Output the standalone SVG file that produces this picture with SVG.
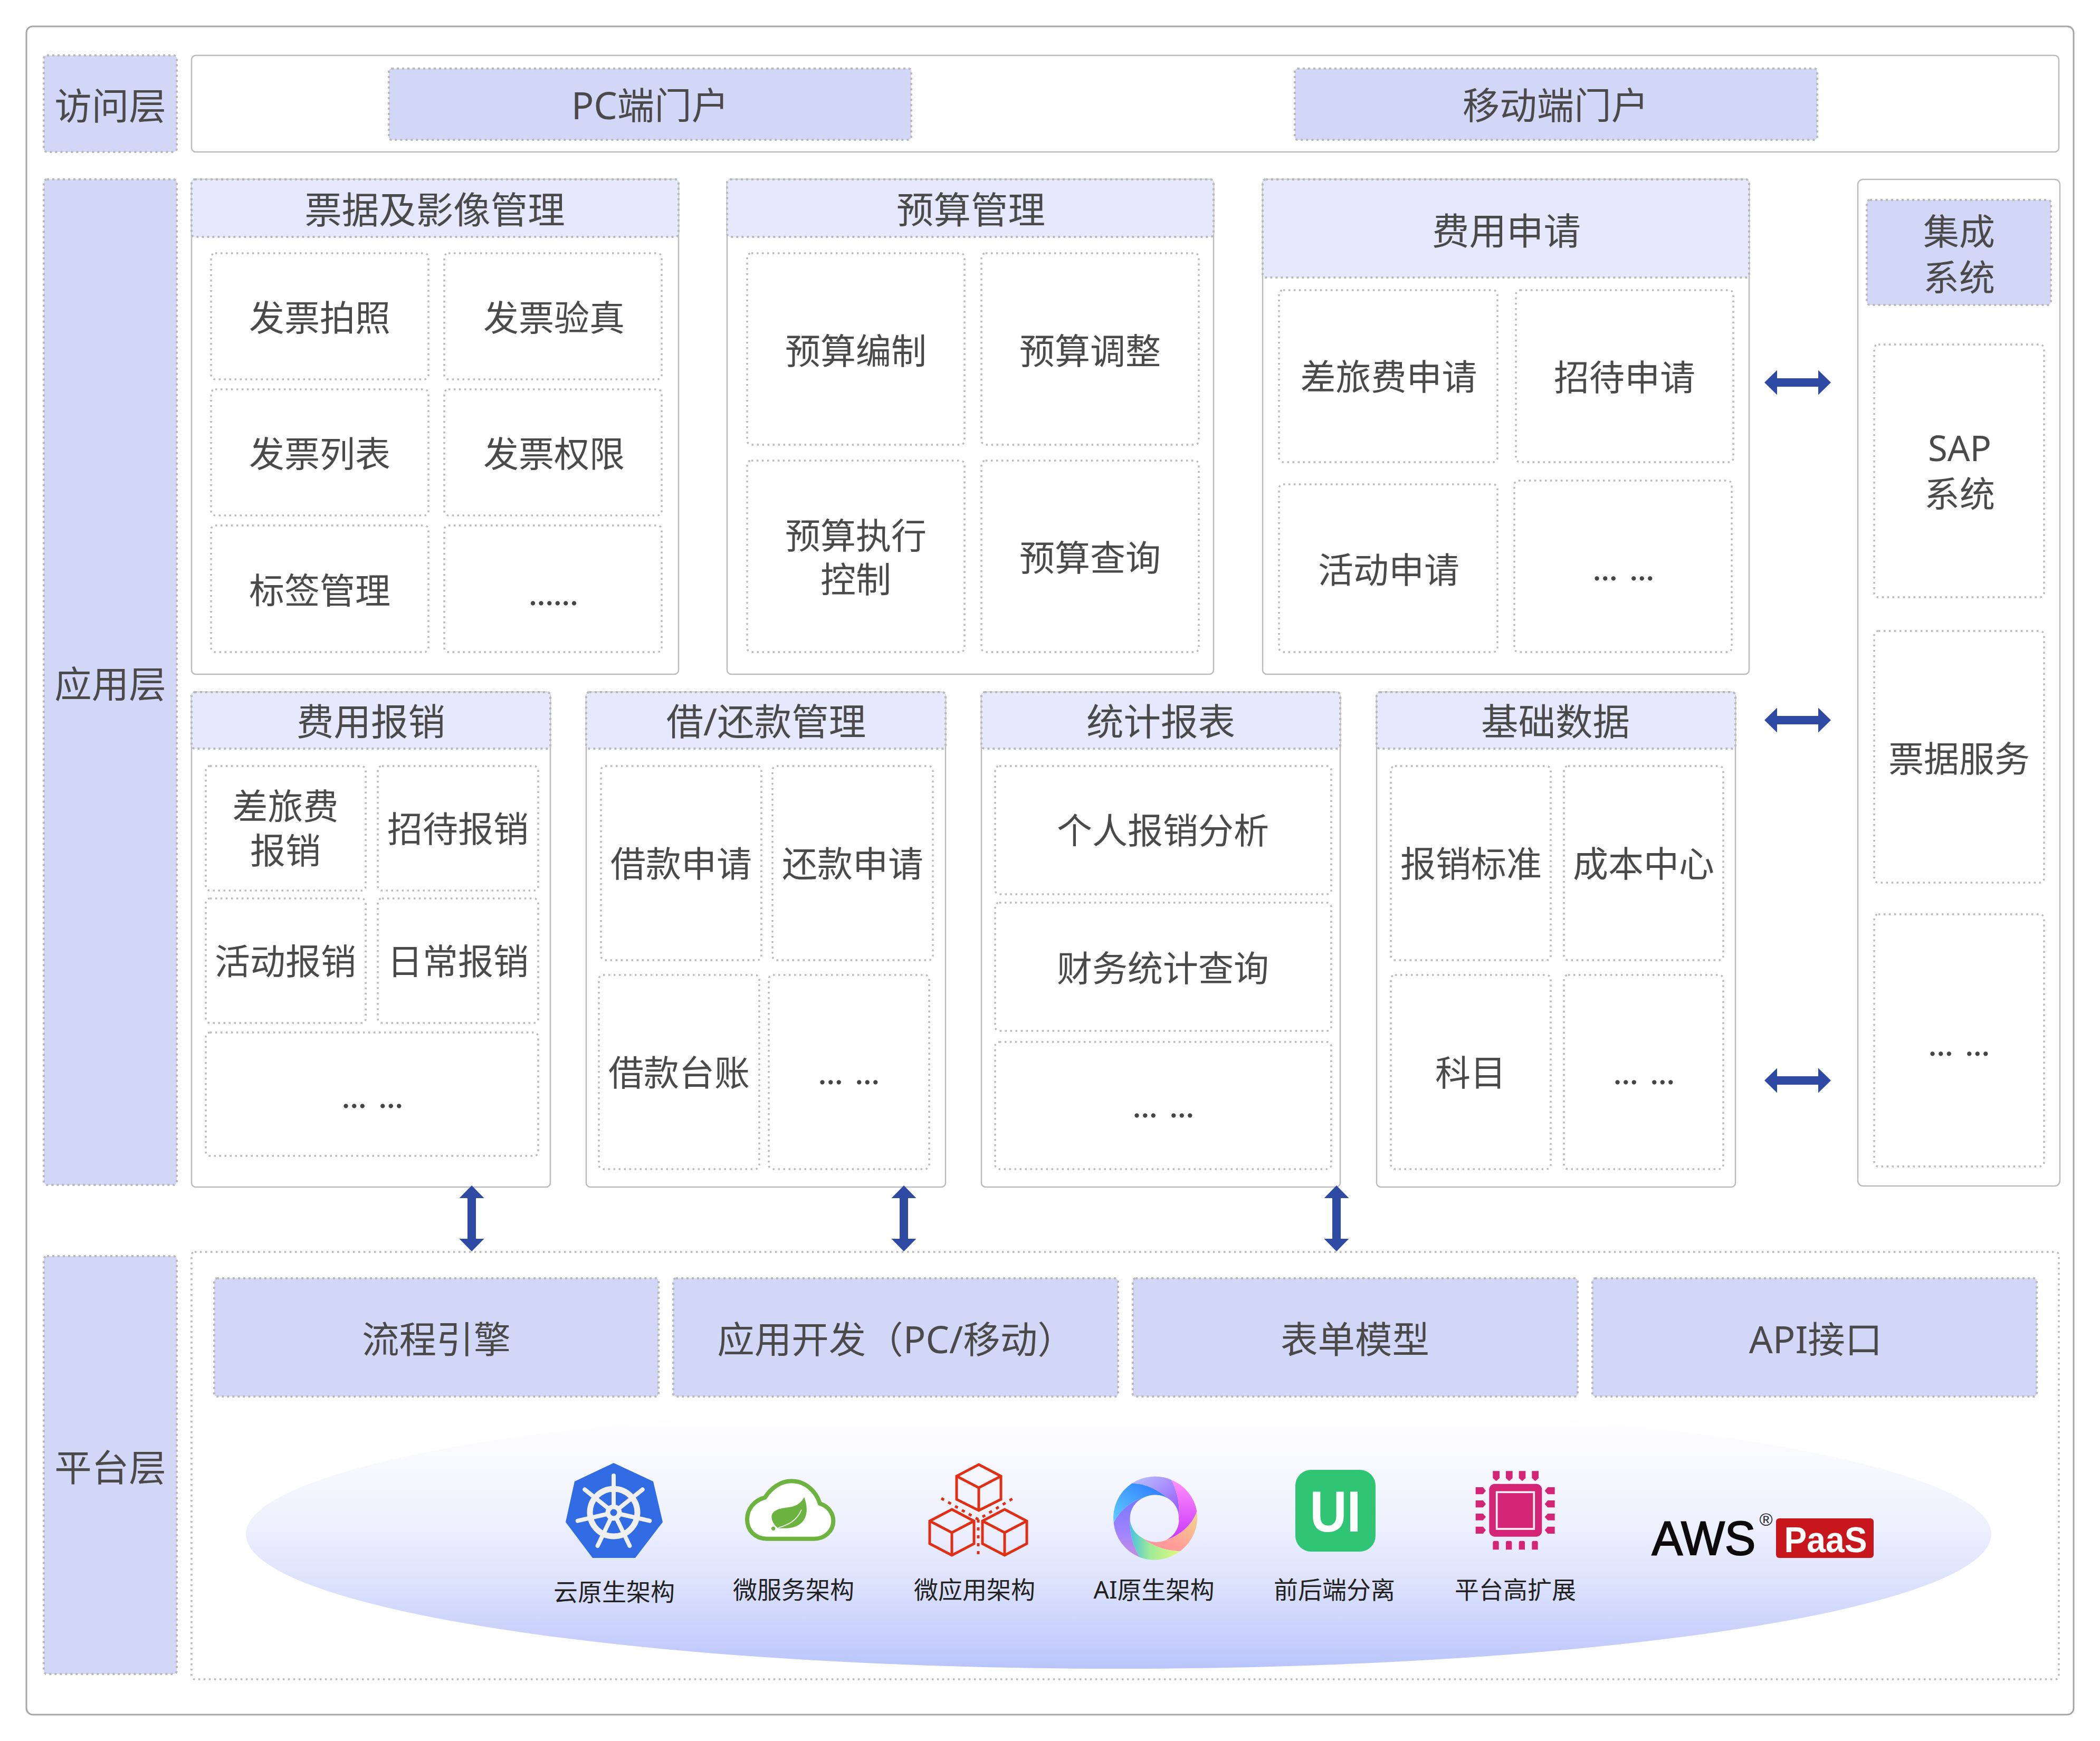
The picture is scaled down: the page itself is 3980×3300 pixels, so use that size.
<svg xmlns="http://www.w3.org/2000/svg" width="3980" height="3300" viewBox="0 0 3980 3300">
<style>
text{font-family:"Noto Sans","Noto Sans CJK SC",sans-serif;text-anchor:middle;fill:#4a4a4a}
.t70{font-size:70.5px}.t66{font-size:67px}.t68{font-size:68px}
.cap{font-size:46px;fill:#222}
.dots{font-family:Lato,"Noto Sans",sans-serif;font-size:66px;word-spacing:6px;fill:#454545}
.frame{fill:#fff;stroke:#bbb;stroke-width:2.5}
.lab{fill:#d2d6f7;stroke:#b9b9b9;stroke-width:4;stroke-dasharray:4 6}
.hd{fill:#e6e9fd;stroke:#b9b9b9;stroke-width:4;stroke-dasharray:4 6}
.cell{fill:#fff;stroke:#bbb;stroke-width:3.5;stroke-dasharray:3.5 6.5}
.arrow{stroke:#2e4aa3;stroke-width:16;fill:none;marker-start:url(#ah);marker-end:url(#ah)}
</style>
<defs>
<marker id="ah" markerUnits="userSpaceOnUse" viewBox="0 0 24 47" refX="0" refY="23.5" markerWidth="24" markerHeight="47" orient="auto-start-reverse"><path d="M0 0L24 23.5L0 47Z" fill="#2e4aa3"/></marker>
<linearGradient id="cloud" x1="0" y1="0" x2="0" y2="1"><stop offset="0" stop-color="#fff"/><stop offset=".09" stop-color="#fefeff"/><stop offset=".29" stop-color="#f6f7fe"/><stop offset=".49" stop-color="#eceffe"/><stop offset=".68" stop-color="#dde2fd"/><stop offset=".88" stop-color="#c8d0fc"/><stop offset="1" stop-color="#b9c5fb"/></linearGradient>
<linearGradient id="b1" x1="0" y1="0" x2="1" y2="1"><stop offset="0" stop-color="#bcc4fb"/><stop offset="1" stop-color="#9355ff"/></linearGradient>
<linearGradient id="b2" x1="0" y1="0" x2="0" y2="1"><stop offset="0" stop-color="#ff90f8"/><stop offset="1" stop-color="#c837ff"/></linearGradient>
<linearGradient id="b3" x1="1" y1="0" x2="0" y2="1"><stop offset="0" stop-color="#efd98a"/><stop offset=".6" stop-color="#ff9f98"/><stop offset="1" stop-color="#ff8f9f"/></linearGradient>
<linearGradient id="b4" x1="0" y1="0" x2="1" y2="0"><stop offset="0" stop-color="#44c4e0"/><stop offset=".4" stop-color="#9eeb98"/><stop offset="1" stop-color="#e2f97a"/></linearGradient>
<linearGradient id="b5" x1="0" y1="0" x2="0" y2="1"><stop offset="0" stop-color="#7678ff"/><stop offset=".6" stop-color="#a084ff"/><stop offset="1" stop-color="#c78ee0"/></linearGradient>
<linearGradient id="b6" x1="0" y1="1" x2="1" y2="0"><stop offset="0" stop-color="#60d0ff"/><stop offset="1" stop-color="#2a72ff"/></linearGradient>
</defs>
<rect width="3980" height="3300" fill="#fff"/>
<rect id="outer-frame" x="50" y="50" width="3880" height="3200" rx="12" fill="#fff" stroke="#a6a6a6" stroke-width="3"/>

<g id="access-layer">
<rect class="lab" x="83" y="105" width="252" height="183" rx="6"/><text class="t70" x="209" y="227">访问层</text>
</g>
<g id="access-portals">
<rect class="frame" x="363" y="105" width="3539" height="183" rx="8"/>
<rect class="lab" x="737" y="130" width="990" height="135" rx="5"/><text class="t70" x="1232" y="226">PC端门户</text>
<rect class="lab" x="2454" y="130" width="990" height="135" rx="5"/><text class="t70" x="2948" y="226">移动端门户</text>
</g>

<g id="app-layer">
<rect class="lab" x="83" y="340" width="252" height="1906" rx="6"/><text class="t70" x="209" y="1323">应用层</text>
</g>

<g id="invoice">
<rect class="frame" x="363" y="340" width="923" height="938" rx="8"/>
<rect class="hd" x="363" y="340" width="923" height="109" rx="6"/><text class="t70" x="824" y="424">票据及影像管理</text>
<rect class="cell" x="400" y="480" width="412" height="239" rx="8"/><text class="t66" x="606" y="627">发票拍照</text>
<rect class="cell" x="842" y="480" width="412" height="239" rx="8"/><text class="t66" x="1050" y="627">发票验真</text>
<rect class="cell" x="400" y="738" width="412" height="239" rx="8"/><text class="t66" x="606" y="885">发票列表</text>
<rect class="cell" x="842" y="738" width="412" height="239" rx="8"/><text class="t66" x="1050" y="885">发票权限</text>
<rect class="cell" x="400" y="996" width="412" height="240" rx="8"/><text class="t66" x="606" y="1144">标签管理</text>
<rect class="cell" x="842" y="996" width="412" height="240" rx="8"/><text class="dots" x="1049" y="1147">......</text>
</g>

<g id="budget">
<rect class="frame" x="1378" y="340" width="922" height="938" rx="8"/>
<rect class="hd" x="1378" y="340" width="922" height="109" rx="6"/><text class="t70" x="1840" y="424">预算管理</text>
<rect class="cell" x="1416" y="480" width="412" height="363" rx="8"/><text class="t66" x="1622" y="690">预算编制</text>
<rect class="cell" x="1860" y="480" width="412" height="363" rx="8"/><text class="t66" x="2066" y="690">预算调整</text>
<rect class="cell" x="1416" y="873" width="412" height="363" rx="8"/><text class="t66" x="1622" y="1040">预算执行</text><text class="t66" x="1622" y="1123">控制</text>
<rect class="cell" x="1860" y="873" width="412" height="363" rx="8"/><text class="t66" x="2066" y="1082">预算查询</text>
</g>

<g id="expense-apply">
<rect class="frame" x="2393" y="340" width="922" height="938" rx="8"/>
<rect class="hd" x="2393" y="340" width="922" height="186" rx="6"/><text class="t70" x="2855" y="464">费用申请</text>
<rect class="cell" x="2424" y="550" width="414" height="326" rx="8"/><text class="t66" x="2632" y="739">差旅费申请</text>
<rect class="cell" x="2873" y="550" width="412" height="326" rx="8"/><text class="t66" x="3079" y="740">招待申请</text>
<rect class="cell" x="2424" y="918" width="414" height="318" rx="8"/><text class="t66" x="2632" y="1105">活动申请</text>
<rect class="cell" x="2870" y="911" width="412" height="325" rx="8"/><text class="dots" x="3077" y="1100">... ...</text>
</g>

<g id="integration">
<rect class="frame" x="3521" y="340" width="383" height="1908" rx="10"/>
<rect class="lab" x="3538" y="379" width="349" height="199" rx="6"/><text class="t68" x="3713" y="464">集成</text><text class="t68" x="3713" y="551">系统</text>
<rect class="cell" x="3552" y="653" width="322" height="479" rx="8"/><text class="t66" x="3714" y="874">SAP</text><text class="t66" x="3714" y="961">系统</text>
<rect class="cell" x="3552" y="1196" width="322" height="477" rx="8"/><text class="t66" x="3713" y="1463">票据服务</text>
<rect class="cell" x="3552" y="1733" width="322" height="478" rx="8"/><text class="dots" x="3713" y="2001">... ...</text>
</g>

<g id="reimburse">
<rect class="frame" x="363" y="1312" width="680" height="938" rx="8"/>
<rect class="hd" x="363" y="1312" width="680" height="107" rx="6"/><text class="t70" x="703" y="1394">费用报销</text>
<rect class="cell" x="390" y="1452" width="303" height="236" rx="8"/><text class="t66" x="541" y="1553">差旅费</text><text class="t66" x="541" y="1637">报销</text>
<rect class="cell" x="716" y="1452" width="304" height="236" rx="8"/><text class="t66" x="868" y="1596">招待报销</text>
<rect class="cell" x="390" y="1703" width="303" height="236" rx="8"/><text class="t66" x="541" y="1847">活动报销</text>
<rect class="cell" x="716" y="1703" width="304" height="236" rx="8"/><text class="t66" x="868" y="1847">日常报销</text>
<rect class="cell" x="390" y="1957" width="630" height="234" rx="8"/><text class="dots" x="706" y="2100">... ...</text>
</g>

<g id="loan">
<rect class="frame" x="1111" y="1312" width="681" height="938" rx="8"/>
<rect class="hd" x="1111" y="1312" width="681" height="107" rx="6"/><text class="t70" x="1452" y="1394">借/还款管理</text>
<rect class="cell" x="1139" y="1452" width="304" height="368" rx="8"/><text class="t66" x="1291" y="1662">借款申请</text>
<rect class="cell" x="1464" y="1452" width="304" height="368" rx="8"/><text class="t66" x="1616" y="1662">还款申请</text>
<rect class="cell" x="1135" y="1848" width="304" height="368" rx="8"/><text class="t66" x="1287" y="2058">借款台账</text>
<rect class="cell" x="1457" y="1848" width="304" height="368" rx="8"/><text class="dots" x="1609" y="2055">... ...</text>
</g>

<g id="report">
<rect class="frame" x="1860" y="1312" width="680" height="938" rx="8"/>
<rect class="hd" x="1860" y="1312" width="680" height="107" rx="6"/><text class="t70" x="2200" y="1394">统计报表</text>
<rect class="cell" x="1886" y="1452" width="637" height="243" rx="8"/><text class="t66" x="2204" y="1599">个人报销分析</text>
<rect class="cell" x="1886" y="1711" width="637" height="243" rx="8"/><text class="t66" x="2204" y="1860">财务统计查询</text>
<rect class="cell" x="1886" y="1975" width="637" height="241" rx="8"/><text class="dots" x="2205" y="2118">... ...</text>
</g>

<g id="master-data">
<rect class="frame" x="2609" y="1312" width="680" height="938" rx="8"/>
<rect class="hd" x="2609" y="1312" width="680" height="107" rx="6"/><text class="t70" x="2948" y="1394">基础数据</text>
<rect class="cell" x="2636" y="1452" width="303" height="368" rx="8"/><text class="t66" x="2788" y="1662">报销标准</text>
<rect class="cell" x="2964" y="1452" width="302" height="368" rx="8"/><text class="t66" x="3115" y="1662">成本中心</text>
<rect class="cell" x="2636" y="1848" width="303" height="368" rx="8"/><text class="t66" x="2787" y="2058">科目</text>
<rect class="cell" x="2964" y="1848" width="302" height="368" rx="8"/><text class="dots" x="3116" y="2055">... ...</text>
</g>

<g id="platform-layer">
<rect class="lab" x="83" y="2381" width="252" height="792" rx="6"/><text class="t70" x="209" y="2808">平台层</text>
</g>
<g id="platform">
<rect class="cell" x="363" y="2373" width="3539" height="810" rx="6"/>
<ellipse cx="2120" cy="2908" rx="1654" ry="255" fill="url(#cloud)"/>
<rect class="lab" x="406" y="2423" width="842" height="224" rx="5"/><text class="t70" x="827" y="2565">流程引擎</text>
<rect class="lab" x="1276" y="2423" width="843" height="224" rx="5"/><text class="t70" x="1698" y="2565">应用开发（PC/移动）</text>
<rect class="lab" x="2147" y="2423" width="843" height="224" rx="5"/><text class="t70" x="2568" y="2565">表单模型</text>
<rect class="lab" x="3018" y="2423" width="842" height="224" rx="5"/><text class="t70" x="3441" y="2565">API接口</text>
</g>

<g id="tech-k8s">
<polygon points="1163,2773 1238,2808 1256,2885 1204,2953 1123,2953 1072,2885 1089,2808" fill="#326ce5"/>
<g transform="translate(1163,2867)" stroke="#f0f0f0" fill="none" stroke-linecap="round">
<circle r="45" stroke-width="11"/>
<g stroke-width="8">
<line x1="0" y1="-10" x2="0" y2="-70"/>
<line x1="0" y1="-10" x2="0" y2="-70" transform="rotate(51.43)"/>
<line x1="0" y1="-10" x2="0" y2="-70" transform="rotate(102.86)"/>
<line x1="0" y1="-10" x2="0" y2="-70" transform="rotate(154.29)"/>
<line x1="0" y1="-10" x2="0" y2="-70" transform="rotate(205.71)"/>
<line x1="0" y1="-10" x2="0" y2="-70" transform="rotate(257.14)"/>
<line x1="0" y1="-10" x2="0" y2="-70" transform="rotate(308.57)"/>
</g>
<circle r="11" stroke-width="9" fill="#326ce5"/>
</g>
<text class="cap" x="1164" y="3034">云原生架构</text>
</g>

<g id="tech-spring">
<g transform="translate(1400,2790) scale(.3333)">
<path d="M160 380C90 380 48 330 48 270C48 210 90 160 150 145C185 90 240 52 300 52C380 52 440 110 462 180C510 195 538 235 538 280C538 335 490 380 430 380Z" fill="#fff" stroke="#6db33f" stroke-width="24"/>
<path d="M372 143C395 200 395 270 340 302C300 325 260 320 225 320C195 300 180 260 190 240C205 210 250 205 290 200C330 195 360 170 372 143Z" fill="#6db33f"/>
<path d="M225 318C280 300 330 280 357 215" fill="none" stroke="#fff" stroke-width="5"/>
<circle cx="197" cy="322" r="11" fill="#6db33f"/>
</g>
<text class="cap" x="1504" y="3030">微服务架构</text>
</g>

<g id="tech-micro-app">
<g fill="none" stroke="#e02f12" stroke-width="5" stroke-linejoin="miter">
<path d="M1855 2776L1897 2798V2842L1855 2863L1813 2842V2798ZM1813 2798L1855 2820L1897 2798M1855 2820V2863"/>
<path d="M1804 2861L1846 2883V2926L1804 2948L1762 2926V2883ZM1762 2883L1804 2905L1846 2883M1804 2905V2948"/>
<path d="M1904 2861L1946 2883V2926L1904 2948L1862 2926V2883ZM1862 2883L1904 2905L1946 2883M1904 2905V2948"/>
<path d="M1784 2840L1854 2880L1925 2837M1854 2880V2946" stroke-width="5" stroke-dasharray="6 9"/>
</g>
<text class="cap" x="1847" y="3030">微应用架构</text>
</g>

<g id="tech-ai">
<g transform="translate(2090,2770) scale(.3333)">
<path d="M165 125A238 236 0 0 1 390 105C425 170 440 250 432 320A136 128 0 0 0 370 210C300 150 230 125 165 125Z" fill="url(#b1)"/>
<path d="M390 105A238 236 0 0 1 535 285C510 360 440 420 365 445A136 128 0 0 0 432 320C440 250 425 170 390 105Z" fill="url(#b2)"/>
<path d="M535 285A238 236 0 0 1 440 510C360 510 280 480 225 435A136 128 0 0 0 365 445C440 420 510 360 535 285Z" fill="url(#b3)"/>
<path d="M440 510A238 236 0 0 1 210 545C170 480 150 400 155 325A136 128 0 0 0 225 435C280 480 360 510 440 510Z" fill="url(#b4)"/>
<path d="M210 545A238 236 0 0 1 62 350C95 280 160 225 235 205A136 128 0 0 0 155 325C150 400 170 480 210 545Z" fill="url(#b5)"/>
<path d="M62 350A238 236 0 0 1 165 125C230 125 300 150 370 210A136 128 0 0 0 235 205C160 225 95 280 62 350Z" fill="url(#b6)"/>
</g>
<text class="cap" x="2187" y="3030">AI原生架构</text>
</g>

<g id="tech-ui">
<rect x="2455" y="2786" width="152" height="155" rx="30" fill="#30c574"/>
<text x="2531" y="2903" textLength="97" lengthAdjust="spacingAndGlyphs" style="font-family:'Liberation Sans',sans-serif;font-weight:700;font-size:110px;fill:#fff">UI</text>
<text class="cap" x="2529" y="3030">前后端分离</text>
</g>

<g id="tech-chip">
<g transform="translate(2780,2770) scale(.3333)" fill="#d32475">
<rect x="127" y="128" width="300" height="300" rx="32"/>
<rect x="170" y="175" width="212" height="209" fill="none" stroke="#f7f0f6" stroke-width="11"/>
<path d="M148 55H186V95L167 112L148 95Z"/>
<path d="M222 55H260V95L241 112L222 95Z"/><path d="M296 55H334V95L315 112L296 95Z"/><path d="M370 55H408V95L389 112L370 95Z"/>
<path d="M148 502V462Q148 452 158 452H172Q182 452 182 462V502Z"/><path d="M222 502V462Q222 452 232 452H246Q256 452 256 462V502Z"/><path d="M296 502V462Q296 452 306 452H320Q330 452 330 462V502Z"/><path d="M370 502V462Q370 452 380 452H394Q404 452 404 462V502Z"/>
<path d="M50 147H92L108 167L92 187H50Z"/><path d="M50 222H92L108 242L92 262H50Z"/><path d="M50 297H92L108 316L92 335H50Z"/><path d="M50 371H92L108 391L92 411H50Z"/>
<path d="M500 147H460L443 167L460 187H500Z"/><path d="M500 222H460L443 242L460 262H500Z"/><path d="M500 297H460L443 316L460 335H500Z"/><path d="M500 371H460L443 391L460 411H500Z"/>
</g>
<text class="cap" x="2872" y="3030">平台高扩展</text>
</g>

<g id="tech-aws">
<text x="3229" y="2947" textLength="197" lengthAdjust="spacingAndGlyphs" style="font-family:'Liberation Sans',sans-serif;font-size:90px;fill:#0c0a0a;stroke:#0c0a0a;stroke-width:2">AWS</text>
<text x="3347" y="2892" style="font-family:'Liberation Sans',sans-serif;font-size:34px;fill:#222">®</text>
<rect x="3366" y="2878" width="185" height="75" rx="6" fill="#c8161d"/>
<text x="3460" y="2942" textLength="157" lengthAdjust="spacingAndGlyphs" style="font-family:'Liberation Sans',sans-serif;font-weight:700;font-size:68px;fill:#fff">PaaS</text>
</g>

<g id="connectors">
<line class="arrow" x1="3368" y1="725" x2="3446" y2="725"/>
<line class="arrow" x1="3368" y1="1365" x2="3446" y2="1365"/>
<line class="arrow" x1="3368" y1="2048" x2="3446" y2="2048"/>
<line class="arrow" x1="894" y1="2271" x2="894" y2="2348"/>
<line class="arrow" x1="1713" y1="2271" x2="1713" y2="2348"/>
<line class="arrow" x1="2533" y1="2271" x2="2533" y2="2348"/>
</g>
</svg>
